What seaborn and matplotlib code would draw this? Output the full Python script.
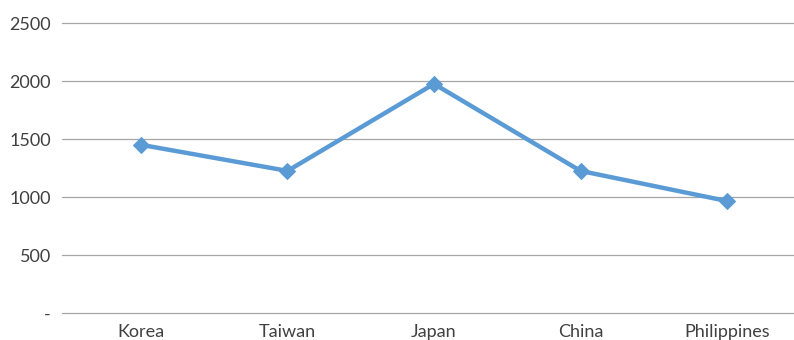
import matplotlib
matplotlib.use("Agg")
import matplotlib.pyplot as plt
import seaborn as sns
import pandas as pd

countries = ["Korea", "Taiwan", "Japan", "China", "Philippines"]
values = [1450, 1225, 1975, 1225, 965]
yticks = [0, 500, 1000, 1500, 2000, 2500]
ytick_labels = ["-", "500", "1000", "1500", "2000", "2500"]

sns.set_theme(style="white")
plt.rcParams['font.family'] = ['Lato', 'DejaVu Sans']

df = pd.DataFrame({"x": range(len(countries)), "value": values})

fig = plt.figure(figsize=(7.94, 3.4), dpi=100)
ax = fig.add_axes([62/794, 27/340, 1 - 62/794, 290/340])

for y in yticks:
    ax.axhline(y, color="#A6A6A6", lw=0.9, zorder=0, clip_on=False)

sns.lineplot(data=df, x="x", y="value", ax=ax, color="#5B9BD5", lw=3.2,
             marker="D", markersize=8.5, markeredgecolor="#5B9BD5", zorder=3)

ax.set_xlim(-0.539, 4.457)
ax.set_ylim(0, 2500)
ax.set_xticks(range(len(countries)))
ax.set_xticklabels(countries)
ax.set_yticks(yticks)
ax.set_yticklabels(ytick_labels)
ax.set_xlabel("")
ax.set_ylabel("")
ax.tick_params(axis="both", length=0, labelsize=13, colors="#404040", pad=8)
ax.tick_params(axis="x", pad=8)
for s in ax.spines.values():
    s.set_visible(False)

fig.savefig("out.png", dpi=100)
